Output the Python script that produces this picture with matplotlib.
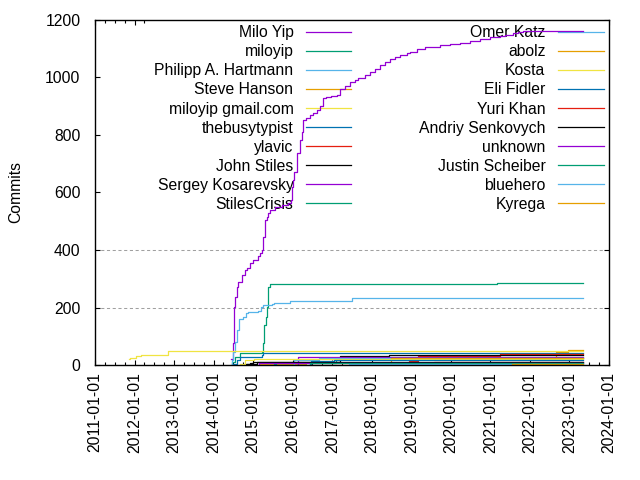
import matplotlib
matplotlib.use("Agg")
import matplotlib.pyplot as plt
import matplotlib.dates as mdates
import pandas as pd

plt.rcParams['font.family'] = ['Liberation Sans', 'DejaVu Sans']
FS = 11.3

END_DATE = "2023-05-05"

authors = ["Milo Yip", "miloyip", "Philipp A. Hartmann", "Steve Hanson",
           "miloyip gmail.com", "thebusytypist", "ylavic", "John Stiles",
           "Sergey Kosarevsky", "StilesCrisis", "Omer Katz", "abolz", "Kosta",
           "Eli Fidler", "Yuri Khan", "Andriy Senkovych", "unknown",
           "Justin Scheiber", "bluehero", "Kyrega"]

palette = ['#9400d3', '#009e73', '#56b4e9', '#e69f00',
           '#f0e442', '#0072b2', '#e51e10', '#000000']

milo_yip_dates = ["2014-06-14", "2014-06-25", "2014-07-07", "2014-07-17", "2014-08-02",
                  "2014-08-16", "2014-09-16", "2014-10-17", "2014-11-01", "2014-12-02",
                  "2015-01-02", "2015-02-17", "2015-03-05", "2015-03-21", "2015-04-05",
                  "2015-04-21", "2015-05-06", "2015-05-21", "2015-06-06", "2015-07-22",
                  "2015-09-22", "2015-11-21", "2015-12-13", "2015-12-22", "2016-01-06",
                  "2016-01-17", "2016-02-06", "2016-03-08", "2016-03-27", "2016-04-05",
                  "2016-05-03", "2016-06-09", "2016-07-06", "2016-08-10", "2016-09-09",
                  "2016-10-07", "2016-11-03", "2016-12-19", "2017-02-11", "2017-03-13",
                  "2017-04-28", "2017-06-13", "2017-07-29", "2017-08-26", "2017-10-29",
                  "2017-12-15", "2018-01-30", "2018-03-17", "2018-05-02", "2018-06-17",
                  "2018-08-02", "2018-09-17", "2018-11-21", "2018-12-18", "2019-02-22",
                  "2019-05-06", "2019-09-22", "2019-12-23", "2020-03-25", "2020-06-26",
                  "2020-09-26", "2020-12-28", "2021-03-30", "2021-05-15", "2021-07-28",
                  "2021-09-12", "2021-10-28"]
milo_yip_commits = [20, 77, 203, 238, 272,
                    290, 313, 330, 336, 354,
                    365, 379, 388, 400, 446,
                    504, 516, 528, 539, 551,
                    557, 562, 574, 620, 643,
                    670, 737, 783, 810, 852,
                    860, 870, 878, 887, 900,
                    929, 932, 936, 939, 960,
                    972, 984, 990, 998, 1010,
                    1019, 1030, 1043, 1055, 1066,
                    1072, 1078, 1085, 1090, 1099,
                    1106, 1113, 1116, 1120, 1127,
                    1135, 1140, 1144, 1148, 1155,
                    1159, 1162]

miloyip_dates = ["2014-06-14", "2014-06-20", "2014-07-17", "2014-09-01", "2015-02-17",
                 "2015-03-21", "2015-04-05", "2015-04-11", "2015-04-30", "2015-05-06",
                 "2015-05-21", "2015-06-06", "2021-03-02"]
miloyip_commits = [1, 11, 29, 41, 43, 46, 75, 139, 168, 203, 272, 281, 284]

hartmann_dates = ["2014-06-16", "2014-06-18", "2014-06-28", "2014-07-17", "2014-08-02",
                  "2014-08-25", "2014-10-01", "2014-10-26", "2014-11-16", "2015-02-17",
                  "2015-03-12", "2015-04-05", "2015-06-21", "2015-07-12", "2015-10-06",
                  "2015-12-06", "2017-04-13", "2017-07-04"]
hartmann_commits = [1, 17, 46, 81, 122, 159, 166, 180, 186, 188,
                    203, 207, 211, 214, 217, 223, 224, 232]

hanson_dates = ["2015-03-01", "2016-05-01", "2019-01-01", "2022-08-28", "2022-12-17"]
hanson_commits = [3, 8, 20, 45, 52]

gmail_dates = ["2011-11-13", "2011-11-20", "2012-01-14", "2012-02-26", "2012-11-07"]
gmail_commits = [20, 26, 32, 35, 48]

busytypist_dates = ["2014-06-25", "2014-08-02", "2014-09-01", "2015-03-21", "2015-04-05"]
busytypist_commits = [3, 17, 29, 36, 41]

ylavic_dates = ["2017-09-10", "2018-12-10", "2019-03-01", "2021-04-01"]
ylavic_commits = [3, 14, 31, 38]

john_stiles_dates = ["2014-10-25", "2014-12-01", "2015-01-02", "2017-03-10", "2018-06-10"]
john_stiles_commits = [2, 6, 11, 32, 36]

kosarevsky_dates = ["2016-02-19", "2016-02-22"]
kosarevsky_commits = [1, 27]

stilescrisis_dates = ["2015-07-15", "2015-08-01", "2017-02-01", "2018-06-01"]
stilescrisis_commits = [3, 8, 20, 26]

omer_katz_dates = ["2016-01-05", "2016-01-10", "2016-09-01"]
omer_katz_commits = [1, 18, 24]

abolz_dates = ["2018-06-20", "2018-06-25"]
abolz_commits = [1, 23]

kosta_dates = ["2014-09-01", "2014-10-15", "2015-01-10"]
kosta_commits = [3, 17, 22]

eli_fidler_dates = ["2016-06-10", "2016-06-20", "2017-01-15"]
eli_fidler_commits = [1, 14, 19]

yuri_khan_dates = ["2017-09-12", "2018-12-05", "2019-08-01"]
yuri_khan_commits = [2, 5, 12]

senkovych_dates = ["2014-11-01", "2014-12-15", "2015-02-10"]
senkovych_commits = [2, 5, 10]

unknown_dates = ["2015-02-17", "2015-02-20"]
unknown_commits = [1, 8]

scheiber_dates = ["2016-06-01", "2016-06-05"]
scheiber_commits = [1, 6]

bluehero_dates = ["2017-06-01", "2017-06-05"]
bluehero_commits = [1, 5]

kyrega_dates = ["2021-07-10", "2021-07-15"]
kyrega_commits = [1, 4]

series_dates = [milo_yip_dates, miloyip_dates, hartmann_dates, hanson_dates,
                gmail_dates, busytypist_dates, ylavic_dates, john_stiles_dates,
                kosarevsky_dates, stilescrisis_dates, omer_katz_dates, abolz_dates,
                kosta_dates, eli_fidler_dates, yuri_khan_dates, senkovych_dates,
                unknown_dates, scheiber_dates, bluehero_dates, kyrega_dates]
series_commits = [milo_yip_commits, miloyip_commits, hartmann_commits, hanson_commits,
                  gmail_commits, busytypist_commits, ylavic_commits, john_stiles_commits,
                  kosarevsky_commits, stilescrisis_commits, omer_katz_commits, abolz_commits,
                  kosta_commits, eli_fidler_commits, yuri_khan_commits, senkovych_commits,
                  unknown_commits, scheiber_commits, bluehero_commits, kyrega_commits]

y_ticks = [0, 200, 400, 600, 800, 1000, 1200]
grid_visible_at = [200, 400]

fig = plt.figure(figsize=(6.4, 4.8), dpi=100)
ax = fig.add_axes([95/640, 1-365/480, (609-95)/640, (365-20)/480])

for i, (name, d, c) in enumerate(zip(authors, series_dates, series_commits)):
    dates = pd.to_datetime(d + [END_DATE])
    vals = c + [c[-1]]
    ax.plot(dates, vals, drawstyle='steps-post', color=palette[i % 8],
            lw=0.9, label=name, zorder=2)

ax.set_xlim(pd.Timestamp("2011-01-01"), pd.Timestamp("2024-01-01"))
ax.set_ylim(0, 1200)
ax.set_yticks(y_ticks)
ax.xaxis.set_major_locator(mdates.YearLocator())
ax.xaxis.set_minor_locator(mdates.MonthLocator(bymonth=[4, 7, 10]))
ax.xaxis.set_major_formatter(mdates.DateFormatter('%Y-%m-%d'))
for lab in ax.get_xticklabels():
    lab.set_rotation(90)

ax.tick_params(axis='both', which='major', direction='in', length=3.6, width=0.8,
               top=True, right=True, labelsize=FS, colors='black')
ax.tick_params(axis='x', which='minor', direction='in', length=2.0, width=0.8,
               top=True, bottom=True)
ax.tick_params(axis='y', which='major', pad=10.5)
ax.tick_params(axis='x', which='major', pad=5)
for s in ax.spines.values():
    s.set_linewidth(1.0)

ax.set_axisbelow(True)
ax.yaxis.grid(True, color='#a0a0a0', lw=0.75, linestyle=(0, (3, 2.5)))
for t, v in zip(ax.yaxis.get_major_ticks(), y_ticks):
    t.gridline.set_visible(v in grid_visible_at)

fig.text(16/640, 1-192/480, "Commits", rotation=90, ha='center', va='center',
         fontsize=FS)

leg = ax.legend(ncol=2, markerfirst=False, loc='upper right', bbox_to_anchor=(1, 1),
                borderaxespad=0, borderpad=0.35, fontsize=FS, handlelength=2.87,
                handletextpad=0.83, columnspacing=4.3, labelspacing=0.255,
                frameon=True, framealpha=1, fancybox=False)
leg.get_frame().set_edgecolor('none')
leg.get_frame().set_facecolor('white')
leg.set_zorder(1.5)

fig.savefig("out.png", dpi=100)
